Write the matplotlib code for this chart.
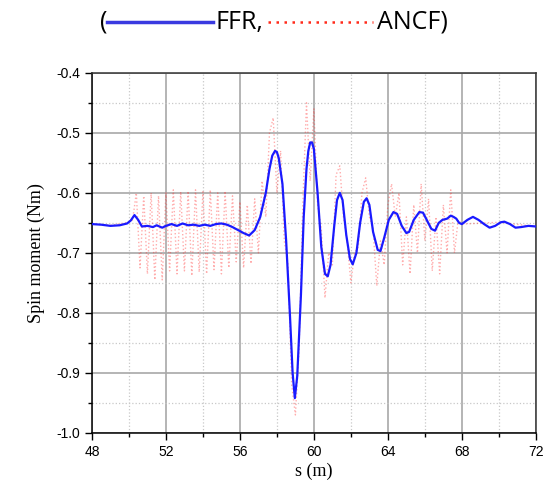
import numpy as np
import matplotlib
matplotlib.use("Agg")
import matplotlib.pyplot as plt
from matplotlib.lines import Line2D
from matplotlib.ticker import MultipleLocator

# FFR (blue, smooth)
ffr_s = [48.0, 48.5, 49.0, 49.5, 49.9, 50.1, 50.3, 50.5, 50.7, 51.0, 51.3, 51.5,
         51.8, 52.0, 52.3, 52.6, 52.9, 53.2, 53.5, 53.8, 54.1, 54.4, 54.7, 55.0,
         55.3, 55.6, 55.9, 56.2, 56.5, 56.8, 57.1, 57.4, 57.6, 57.75, 57.9, 58.0, 58.1,
         58.3, 58.5, 58.7, 58.85, 58.97, 59.1, 59.3, 59.45, 59.6, 59.7, 59.8, 59.9, 60.0,
         60.2, 60.4, 60.6, 60.75, 60.9, 61.1, 61.25, 61.4, 61.55, 61.75, 61.95, 62.1,
         62.3, 62.5, 62.7, 62.85, 63.0, 63.2, 63.45, 63.6, 63.8, 64.05, 64.3, 64.5,
         64.75, 65.0, 65.15, 65.4, 65.7, 65.9, 66.1, 66.35, 66.55, 66.75, 66.95, 67.2,
         67.4, 67.55, 67.7, 67.85, 68.0, 68.3, 68.6, 68.9, 69.2, 69.5, 69.8, 70.1,
         70.3, 70.6, 70.9, 71.2, 71.6, 72.0]
ffr_v = [-0.652, -0.653, -0.655, -0.654, -0.651, -0.646, -0.637, -0.645, -0.656, -0.655, -0.657, -0.654,
         -0.658, -0.655, -0.652, -0.655, -0.651, -0.654, -0.653, -0.655, -0.653, -0.655, -0.652, -0.651,
         -0.653, -0.657, -0.662, -0.667, -0.671, -0.662, -0.640, -0.600, -0.560, -0.538, -0.530, -0.532, -0.542,
         -0.585, -0.680, -0.800, -0.900, -0.942, -0.905, -0.770, -0.640, -0.560, -0.530, -0.516, -0.516, -0.527,
         -0.600, -0.690, -0.735, -0.739, -0.720, -0.655, -0.612, -0.600, -0.612, -0.670, -0.710, -0.719,
         -0.700, -0.650, -0.615, -0.609, -0.620, -0.665, -0.695, -0.697, -0.675, -0.645, -0.632, -0.635,
         -0.655, -0.667, -0.665, -0.645, -0.632, -0.633, -0.645, -0.660, -0.663, -0.650, -0.645, -0.643,
         -0.638, -0.640, -0.643, -0.650, -0.652, -0.645, -0.640, -0.645, -0.652, -0.658, -0.655, -0.649,
         -0.648, -0.652, -0.658, -0.657, -0.655, -0.656]

# ANCF (red, dotted, fast oscillation)
ancf_s = [48.0, 49.0, 49.8, 50.2,
          50.4, 50.6, 50.8, 51.0, 51.2, 51.4, 51.6, 51.8, 52.0, 52.2, 52.4, 52.6,
          52.8, 53.0, 53.2, 53.4, 53.6, 53.8, 54.0, 54.2, 54.4, 54.6, 54.8, 55.0,
          55.2, 55.4, 55.6, 55.8, 56.0, 56.2, 56.4, 56.6, 56.8, 57.0, 57.2, 57.4,
          57.6, 57.8, 58.0, 58.2, 58.4, 58.6, 58.8, 59.0, 59.2, 59.4, 59.6, 59.8,
          60.0, 60.2, 60.4, 60.6, 60.8, 61.0, 61.2, 61.4, 61.6, 61.8, 62.0, 62.2,
          62.4, 62.6, 62.8, 63.0, 63.2, 63.4, 63.6, 63.8, 64.0, 64.2, 64.4, 64.6,
          64.8, 65.0, 65.2, 65.4, 65.6, 65.8, 66.0, 66.2, 66.4, 66.6, 66.8, 67.0,
          67.2, 67.4, 67.6, 67.8, 68.0, 70.0, 72.0]
ancf_v = [-0.652, -0.654, -0.650, -0.645,
          -0.600, -0.725, -0.605, -0.735, -0.600, -0.745, -0.605, -0.745, -0.600, -0.730, -0.595, -0.735,
          -0.598, -0.730, -0.597, -0.738, -0.595, -0.732, -0.598, -0.735, -0.595, -0.728, -0.600, -0.735,
          -0.597, -0.725, -0.605, -0.715, -0.615, -0.725, -0.620, -0.718, -0.610, -0.700, -0.580, -0.640,
          -0.500, -0.475, -0.600, -0.530, -0.680, -0.720, -0.920, -0.970, -0.860, -0.620, -0.450, -0.580,
          -0.460, -0.620, -0.660, -0.775, -0.700, -0.720, -0.570, -0.555, -0.640, -0.680, -0.750, -0.700,
          -0.690, -0.600, -0.575, -0.640, -0.660, -0.755, -0.680, -0.720, -0.620, -0.585, -0.640, -0.600,
          -0.720, -0.640, -0.735, -0.620, -0.700, -0.585, -0.680, -0.610, -0.730, -0.640, -0.735, -0.620,
          -0.700, -0.595, -0.700, -0.645, -0.652, -0.649, -0.656]

x_ticks = [48, 52, 56, 60, 64, 68, 72]
y_ticks = [-1.0, -0.9, -0.8, -0.7, -0.6, -0.5, -0.4]

fig = plt.figure(figsize=(5.44, 4.92), dpi=100)
ax = fig.add_axes([0.169, 0.12, 0.816, 0.732])

ax.plot(ancf_s, ancf_v, color="#ff3030", linestyle=":", linewidth=1.0, alpha=0.4, zorder=2)
ax.plot(ffr_s, ffr_v, color="#1a1aff", linewidth=1.6, zorder=3)

ax.set_xlim(48, 72)
ax.set_ylim(-1.0, -0.4)
ax.set_xticks(x_ticks)
ax.set_yticks(y_ticks)
ax.set_yticklabels([f"{t:.1f}" for t in y_ticks])
ax.xaxis.set_minor_locator(MultipleLocator(2))
ax.yaxis.set_minor_locator(MultipleLocator(0.05))

ax.grid(which="major", color="#a8a8a8", linewidth=1.2, linestyle="-", zorder=0)
ax.grid(which="minor", color="#c8c8c8", linewidth=0.9, linestyle=":", zorder=0)
ax.set_axisbelow(True)

ax.tick_params(which="major", direction="out", length=5, width=1.0, labelsize=10,
               top=False, right=False)
ax.tick_params(which="minor", direction="out", length=3, width=1.0, top=False, right=False)
for lbl in ax.get_xticklabels() + ax.get_yticklabels():
    lbl.set_fontfamily("Liberation Sans")
for side in ["left", "bottom"]:
    ax.spines[side].set_linewidth(1.1)
    ax.spines[side].set_color("black")
for side in ["top", "right"]:
    ax.spines[side].set_linewidth(1.1)
    ax.spines[side].set_color("#333333")

ax.set_xlabel("s (m)", family="Liberation Serif", fontsize=13, labelpad=3)
ax.set_ylabel("Spin moment (Nm)", family="Liberation Serif", fontsize=13, labelpad=8)

# legend-like title line at the top
ty = 1 - 22 / 492
fig.text(100 / 544, ty, "(", fontsize=18, family="Open Sans", va="center", ha="left")
fig.add_artist(Line2D([107 / 544, 213 / 544], [ty, ty], color="#3a3ae0", linewidth=2.5,
                      transform=fig.transFigure))
fig.text(215 / 544, ty, "FFR,", fontsize=18, family="Open Sans", va="center", ha="left")
fig.add_artist(Line2D([268 / 544, 373 / 544], [ty, ty], color="#ff2a1a", linewidth=1.8,
                      linestyle=(0, (1, 2.2)), transform=fig.transFigure))
fig.text(377 / 544, ty, "ANCF)", fontsize=18, family="Open Sans", va="center", ha="left")

fig.savefig("out.png", dpi=100)
